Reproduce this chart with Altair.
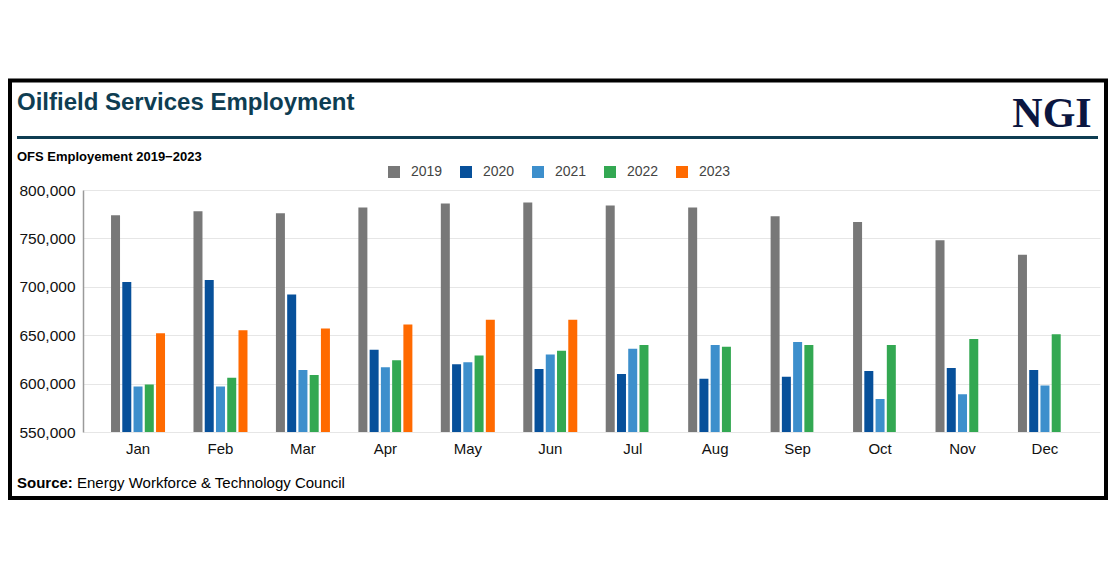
import altair as alt
import pandas as pd

months = ["Jan", "Feb", "Mar", "Apr", "May", "Jun", "Jul", "Aug", "Sep", "Oct", "Nov", "Dec"]
years = ["2019", "2020", "2021", "2022", "2023"]
y2019 = [774000, 778000, 776000, 782000, 786000, 787000, 784000, 782000, 773000, 767000, 748000, 733000]
y2020 = [705000, 707000, 692000, 635000, 620000, 615000, 610000, 605000, 607000, 613000, 616000, 614000]
y2021 = [597000, 597000, 614000, 617000, 622000, 630000, 636000, 640000, 643000, 584000, 589000, 598000]
y2022 = [599000, 606000, 609000, 624000, 629000, 634000, 640000, 638000, 640000, 640000, 646000, 651000]
y2023 = [652000, 655000, 657000, 661000, 666000, 666000]
colors = ["#787878", "#07509a", "#3d8fcc", "#33a852", "#ff6a00"]
y_ticks = [550000, 600000, 650000, 700000, 750000, 800000]

series = [y2019, y2020, y2021, y2022, y2023]
rows = []
for yr, vals in zip(years, series):
    for m, v in zip(months, vals):
        rows.append({"month": m, "year": yr, "value": v})
df = pd.DataFrame(rows)

FONT = "Liberation Sans"

bars = alt.Chart(df).mark_bar(clip=True).encode(
    x=alt.X("month:N", sort=months,
            scale=alt.Scale(paddingInner=0.345, paddingOuter=0.34),
            axis=alt.Axis(title=None, labelAngle=0, ticks=False, domain=False,
                          labelFontSize=15, labelFont=FONT, labelColor="#111",
                          labelPadding=9, grid=False)),
    xOffset=alt.XOffset("year:N", sort=years, scale=alt.Scale(paddingInner=0.2, paddingOuter=0)),
    y=alt.Y("value:Q",
            scale=alt.Scale(domain=[550000, 800000], zero=False, nice=False),
            axis=alt.Axis(title=None, values=y_ticks, format=",.0f", ticks=False,
                          labelFontSize=15.5, labelFont=FONT, labelColor="#111",
                          labelPadding=8, domainColor="#9a9a9a", domainWidth=1.5,
                          gridColor="#e6e6e6", gridWidth=1)),
    color=alt.Color("year:N", sort=years,
                    scale=alt.Scale(domain=years, range=colors),
                    legend=alt.Legend(title=None, orient="none", direction="horizontal",
                                      legendX=304, legendY=-25, symbolType="square",
                                      symbolSize=144, symbolStrokeWidth=0,
                                      labelFontSize=14, labelFont=FONT, labelColor="#444",
                                      labelOffset=10, columnPadding=16, padding=0)),
)

one = pd.DataFrame({"a": [0]})


def txt(text, x, y, size, weight="normal", color="#000", font=FONT, align="left", baseline="middle"):
    return alt.Chart(one).mark_text(text=text, fontSize=size, fontWeight=weight, color=color,
                                    font=font, align=align, baseline=baseline).encode(
        x=alt.value(x), y=alt.value(y))


title = txt("Oilfield Services Employment", -66, -80, 24, "bold", "#0e3d52", baseline="alphabetic")
logo = txt("NGI", 969, -63, 42, "bold", "#0b1640", font="Liberation Serif", align="center",
           baseline="alphabetic")
subtitle = txt("OFS Employement 2019\u22122023", -66, -33, 13, "bold", "#000")
src_b = txt("Source:", -66, 293, 15, "bold", "#000")
src_r = txt("Energy Workforce & Technology Council", -6, 293, 15, "normal", "#000")

rule = alt.Chart(one).mark_rule(color="#0e3d52", strokeWidth=3).encode(
    x=alt.value(-66), x2=alt.value(1015), y=alt.value(-52.5))

border = alt.Chart(one).mark_rect(fill=None, stroke="#000", strokeWidth=4, filled=False).encode(
    x=alt.value(-73), x2=alt.value(1023), y=alt.value(-109.5), y2=alt.value(308))

chart = alt.layer(bars, border, rule, title, logo, subtitle, src_b, src_r).properties(
    width=1017, height=242,
    padding={"left": 75, "top": 182, "right": 8, "bottom": 78},
    autosize="none",
    background="white",
).configure_view(stroke=None)

chart.save("out.html", embed_options={"renderer": "svg", "actions": False})
